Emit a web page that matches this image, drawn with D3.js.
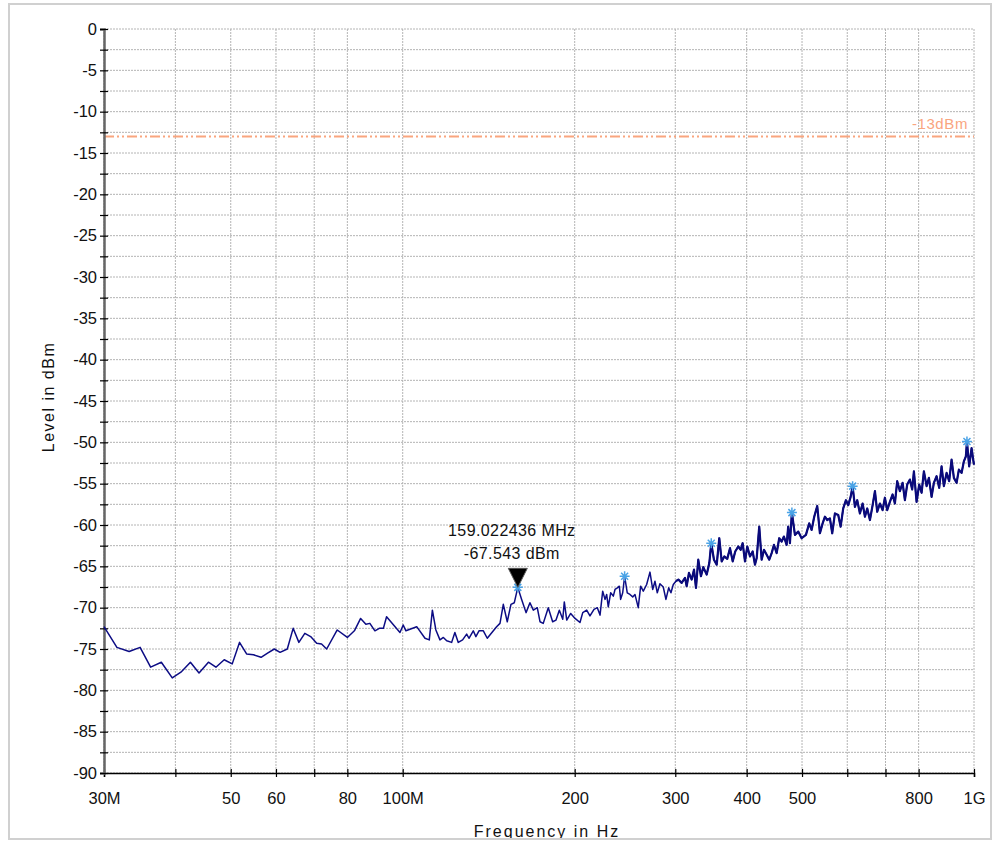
<!DOCTYPE html>
<html>
<head>
<meta charset="utf-8">
<script src="https://cdn.jsdelivr.net/npm/d3@7"></script>
<style>
  body { margin: 0; background: #fff; }
  svg text { font-family: "Liberation Sans", Arial, sans-serif; fill: #111; }
</style>
</head>
<body>
<div id="chart-container"></div>
<script>
// trace data (MHz, dBm)
const freqs = [30,31.6,33.2,34.7,36.2,37.8,39.5,40.9,42.5,44.0,
  45.7,47.1,48.7,50.3,51.8,53.3,54.8,56.5,58.0,59.6,
  61.0,62.8,64.3,65.8,67.4,69.0,70.7,72.1,73.6,76.8,
  80.0,82.3,84.4,86.2,87.6,89.4,91.0,92.5,93.7,98.9,
  100.2,101.3,
  105.8,109.4,111.3,112.7,114.3,116.2,117.8,119.4,121.8,123.4,
  125.1,127.3,129.4,130.6,132.9,134.3,136.0,138.4,140.6,146.0,
  148.0,150.0,152.4,154.7,156.8,
  159.022436,
  161.5,164.4,167.0,169.3,172.0,173.9,176.2,179.8,183.0,185.5,
  188.0,190.6,191.8,193.7,196.8,200.3,204.3,206.6,209.9,212.7,
  216.2,219.1,221.5,223.9,226.0,227.5,229.0,231.2,233.7,235.3,
  237.5,239.4,240.7,242.7,244.6,247.2,249.9,252.7,255.0,258.4,
  260.9,263.7,267.3,270.9,273.9,276.4,279.0,282.0,285.8,288.9,
  292.1,294.8,297.6,300.8,303.7,307.8,312.0,314.1,317.0,320.5,
  323.5,326.1,329.1,332.7,335.8,340.5,344.1,346.8,350.6,354.5,
  358.2,361.7,365.5,369.9,374.0,378.1,382.0,386.7,390.5,393.6,
  397.3,401.0,405.4,409.8,413.6,416.5,420.8,424.9,428.9,433.6,
  438.1,442.4,446.5,451.4,456.1,460.6,464.8,469.9,472.9,476.2,
  480.0,
  485.9,492.4,499.2,507.9,514.7,519.7,525.2,531.6,537.4,543.3,
  548.4,553.5,559.5,564.7,570.9,578.6,584.2,590.3,596.8,602.4,
  608.2,613.1,618.8,624.6,631.4,638.3,644.3,650.3,657.4,664.6,
  670.8,677.0,684.4,691.9,698.3,704.8,712.5,720.3,727.0,733.8,
  741.8,749.9,756.9,764.0,772.3,779.5,784.9,793.4,801.8,809.6,
  817.1,826.1,833.8,842.9,850.7,860.0,869.1,877.5,885.7,895.4,
  904.8,913.6,922.1,932.2,940.9,951.2,960.0,967.8,
  972.0,980.7,990.3,996.7,1000];

const levels = [-72.3,-74.8,-75.3,-74.8,-77.2,-76.6,-78.5,-77.8,-76.6,-77.9,
  -76.6,-77.2,-76.3,-76.8,-74.2,-75.6,-75.7,-76.0,-75.5,-75.0,
  -75.4,-75.0,-72.5,-74.2,-73.1,-73.5,-74.3,-74.4,-75.0,-72.7,
  -73.6,-72.8,-71.3,-72.0,-71.9,-72.8,-72.5,-72.5,-71.1,-73.0,
  -72.1,-72.8,
  -72.3,-73.7,-73.9,-70.3,-72.7,-73.9,-73.6,-74.0,-74.2,-73.0,
  -74.2,-73.9,-73.2,-73.7,-72.8,-73.5,-72.8,-72.8,-73.7,-72.3,
  -71.9,-69.6,-71.7,-69.6,-69.4,
  -67.543,
  -69.0,-70.6,-69.4,-70.3,-70.0,-71.7,-71.9,-70.0,-71.7,-71.5,
  -70.3,-71.4,-69.3,-71.5,-70.7,-71.3,-71.8,-70.6,-70.3,-71.0,
  -70.2,-70.0,-70.9,-68.0,-69.0,-68.4,-69.9,-68.2,-68.6,-67.8,
  -67.6,-67.4,-69.0,-68.2,-66.2,-68.2,-68.4,-68.7,-68.4,-70.0,
  -67.4,-68.0,-67.2,-65.7,-67.8,-66.8,-68.2,-67.1,-67.5,-69.0,
  -67.6,-68.2,-67.2,-66.8,-66.6,-67.0,-66.4,-67.4,-65.8,-66.6,
  -65.4,-67.6,-64.2,-66.2,-65.1,-66.0,-64.6,-62.2,-64.2,-64.8,
  -61.6,-64.4,-63.8,-64.1,-62.8,-64.4,-63.2,-62.6,-63.0,-62.2,
  -64.4,-62.6,-63.8,-63.2,-64.8,-64.0,-60.2,-64.2,-63.0,-63.6,
  -64.2,-63.4,-62.4,-63.4,-61.6,-62.0,-61.4,-62.4,-60.2,-62.2,
  -58.5,
  -61.2,-60.8,-61.6,-61.2,-59.8,-60.6,-59.0,-57.7,-61.0,-59.8,
  -59.0,-59.4,-59.2,-61.0,-58.6,-58.8,-60.2,-58.0,-57.0,-57.6,
  -56.6,-55.3,-57.8,-57.0,-58.6,-57.4,-59.0,-58.0,-59.4,-57.6,
  -55.9,-58.4,-57.4,-58.2,-56.7,-58.2,-57.2,-56.3,-57.4,-54.7,
  -55.9,-54.9,-57.0,-55.1,-54.5,-55.7,-53.5,-57.2,-55.1,-56.1,
  -53.5,-55.3,-54.3,-56.6,-54.9,-54.1,-55.5,-52.9,-55.3,-53.7,
  -54.7,-52.1,-54.3,-54.9,-53.3,-53.7,-52.3,-51.7,
  -49.9,-52.9,-50.7,-52.1,-52.7];

// peak search stars
const peakFreqs = [159.022436, 244.6, 346.8, 480.0, 613.1, 972.0];
const peakLevels = [-67.543, -66.2, -62.2, -58.5, -55.3, -49.9];

// marker
const markerFreq = 159.022436, markerLevel = -67.543;
const markerLines = ["159.022436 MHz", "-67.543 dBm"];

// limit line
const limitLevel = -13, limitLabel = "-13dBm";

// axes
const xTicks = [30, 40, 50, 60, 70, 80, 100, 200, 300, 400, 500, 600, 700, 800, 1000];
const xTickLabels = ["30M", "", "50", "60", "", "80", "100M", "200", "300", "400", "500", "", "", "800", "1G"];
const yTicks = d3.range(0, -90.01, -2.5);

const margin = { top: 29, right: 20, bottom: 70, left: 104 },
  width = 974 - margin.left,
  height = 773 - margin.top;

const x = d3.scaleLog().domain([30, 1000]).range([0, width]);
const y = d3.scaleLinear().domain([0, -90]).range([0, height]);

const root = d3.select("#chart-container").append("svg")
  .attr("width", 994)
  .attr("height", 843);

const svg = root.append("g")
  .attr("transform", "translate(" + margin.left + "," + margin.top + ")");

// grid
svg.append("g").selectAll("line")
  .data(yTicks)
  .enter().append("line")
  .attr("x1", 0).attr("x2", width)
  .attr("y1", d => y(d)).attr("y2", d => y(d))
  .attr("stroke", "#b4b4b4")
  .attr("stroke-width", 1)
  .attr("stroke-dasharray", "2,1");

svg.append("g").selectAll("line")
  .data(xTicks)
  .enter().append("line")
  .attr("x1", d => x(d)).attr("x2", d => x(d))
  .attr("y1", 0).attr("y2", height)
  .attr("stroke", "#b4b4b4")
  .attr("stroke-width", 1)
  .attr("stroke-dasharray", "2,1");

// limit line
svg.append("line")
  .attr("x1", 0).attr("x2", width)
  .attr("y1", y(limitLevel)).attr("y2", y(limitLevel))
  .attr("stroke", "#f9a57f")
  .attr("stroke-width", 2)
  .attr("stroke-dasharray", "10,3,2,3,2,3");

svg.append("text")
  .attr("x", width - 6)
  .attr("y", y(limitLevel) - 7)
  .attr("text-anchor", "end")
  .style("font-size", "15px")
  .style("letter-spacing", "0.6px")
  .style("fill", "#f9a57f")
  .text(limitLabel);

// x axis
const xAxis = d3.axisBottom(x)
  .tickValues(xTicks)
  .tickSize(4)
  .tickFormat((d, i) => xTickLabels[i]);

const gx = svg.append("g")
  .attr("transform", "translate(0," + height + ")")
  .call(xAxis);
gx.select(".domain").attr("stroke", "#000").attr("stroke-width", 1.5);
gx.selectAll(".tick line").attr("y1", -4).attr("stroke", "#000").attr("stroke-width", 1.2);
gx.selectAll(".tick text")
  .attr("dy", "0")
  .attr("y", 31)
  .style("font-size", "16.5px")
  .style("fill", "#111");

// y axis
const yAxis = d3.axisLeft(y)
  .tickValues(yTicks)
  .tickSize(4)
  .tickFormat(d => (d % 5 === 0 ? String(d) : ""));

const gy = svg.append("g").call(yAxis);
gy.select(".domain").attr("stroke", "#666").attr("stroke-width", 2.5);
gy.selectAll(".tick line").attr("x1", 4).attr("stroke", "#000").attr("stroke-width", 1.2);
gy.selectAll(".tick text")
  .attr("x", -7)
  .style("font-size", "16.5px")
  .style("fill", "#111");

// trace
const data = freqs.map((f, i) => ({ f: f, v: levels[i] }));
const line = d3.line()
  .x(d => x(d.f))
  .y(d => y(d.v));

svg.append("path")
  .datum(data)
  .attr("fill", "none")
  .attr("stroke", "#0c0c84")
  .attr("stroke-width", 1.5)
  .attr("stroke-linejoin", "round")
  .attr("d", line);

// denser part of the sweep reads heavier
svg.append("path")
  .datum(data.filter(d => d.f >= 300))
  .attr("fill", "none")
  .attr("stroke", "#0a0a7a")
  .attr("stroke-width", 2.2)
  .attr("stroke-linejoin", "round")
  .attr("d", line);

// star markers
const starPath = "M-5,0L5,0M0,-5L0,5M-3.5,-3.5L3.5,3.5M-3.5,3.5L3.5,-3.5";
svg.append("g").selectAll("path")
  .data(peakFreqs)
  .enter().append("path")
  .attr("transform", (d, i) => "translate(" + x(d) + "," + y(peakLevels[i]) + ")")
  .attr("d", starPath)
  .attr("stroke", "#4aa3e6")
  .attr("stroke-width", 1.5)
  .attr("fill", "none");

// marker triangle + label
const mx = x(markerFreq), my = y(markerLevel);
svg.append("path")
  .attr("transform", "translate(" + mx + "," + my + ")")
  .attr("d", "M-9.5,-19L9.5,-19L0,0Z")
  .attr("fill", "#000")
  .attr("stroke", "#555")
  .attr("stroke-width", 1);

svg.selectAll(".mlabel")
  .data(markerLines)
  .enter().append("text")
  .attr("class", "mlabel")
  .attr("x", mx - 6)
  .attr("y", (d, i) => my - 51 + i * 23)
  .attr("text-anchor", "middle")
  .style("font-size", "16px")
  .style("letter-spacing", "0.4px")
  .text(d => d);

// axis titles
root.append("text")
  .attr("transform", "translate(54,397) rotate(-90)")
  .attr("text-anchor", "middle")
  .style("font-size", "16px")
  .style("letter-spacing", "1.5px")
  .text("Level in dBm");

root.append("text")
  .attr("x", 547)
  .attr("y", 837)
  .attr("text-anchor", "middle")
  .style("font-size", "16px")
  .style("letter-spacing", "2px")
  .text("Frequency in Hz");

// frame
root.append("rect")
  .attr("x", 0).attr("y", 839)
  .attr("width", 994).attr("height", 4)
  .attr("fill", "#fff");

root.append("rect")
  .attr("x", 9).attr("y", 4)
  .attr("width", 982).attr("height", 835)
  .attr("fill", "none")
  .attr("stroke", "#d0d0d0")
  .attr("stroke-width", 2);
</script>
</body>
</html>
